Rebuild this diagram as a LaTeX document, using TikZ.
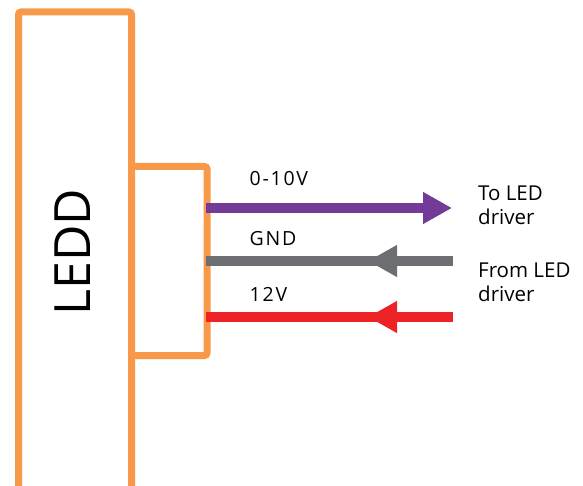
\documentclass[tikz,border=0pt]{standalone}
\usepackage{fontspec}
\setmainfont{Open Sans}
\newfontfamily\wirefont[LetterSpace=9]{Open Sans}
\usetikzlibrary{arrows.meta}
\definecolor{boxorange}{HTML}{F8994A}
\definecolor{wirepurple}{HTML}{733A97}
\definecolor{wiregray}{HTML}{6D6E71}
\definecolor{wirered}{HTML}{ED2224}
\begin{document}
\begin{tikzpicture}[x=1pt,y=-1pt,
  boxline/.style={draw=boxorange,line width=7pt,rounded corners=2.5pt},
  wire/.style={line width=10pt},
  tipR/.style={-{Triangle[length=29pt,width=30pt]}},
  wirelabel/.style={anchor=base west,inner sep=0pt,font=\wirefont\fontsize{19.5}{22}\selectfont},
  sidelabel/.style={anchor=north west,inner sep=0pt,align=left,font=\fontsize{20.5}{23.8}\selectfont}]
\useasboundingbox (0,0) rectangle (583,486);
% main LEDD box (runs off the bottom)
\draw[boxline] (18.5,510) -- (18.5,12) -- (131.5,12) -- (131.5,510);
\node[rotate=90,inner sep=0pt,font=\fontsize{50}{60}\selectfont] (ledd) at (73,252) {LEDD};
% connector block
\draw[boxline] (131.5,166.5) -- (207,166.5) -- (207,355.5) -- (131.5,355.5);
% wire coordinates
\coordinate (p1) at (206,208);
\coordinate (e1) at (452,208);
\coordinate (p2) at (206,261);
\coordinate (e2) at (453,261);
\coordinate (t2) at (368,261);
\coordinate (p3) at (206,317);
\coordinate (e3) at (453,317);
\coordinate (t3) at (368,317);
% wires
\draw[wire,draw=wirepurple,fill=wirepurple,tipR] (p1) -- (e1);
\draw[wire,draw=wiregray] (p2) -- (e2);
\draw[wire,draw=wiregray,fill=wiregray,tipR] (e2) -- (t2);
\draw[wire,draw=wirered] (p3) -- (e3);
\draw[wire,draw=wirered,fill=wirered,tipR] (e3) -- (t3);
% labels
\node[wirelabel] (l1) at (249.5,186) {0-10V};
\node[wirelabel] (l2) at (249.5,245.3) {GND};
\node[wirelabel] (l3) at (249.5,301.7) {12V};
\node[sidelabel] (s1) at (478,186) {To LED\\driver};
\node[sidelabel] (s2) at (478,262.5) {From LED\\driver};
\end{tikzpicture}
\end{document}
